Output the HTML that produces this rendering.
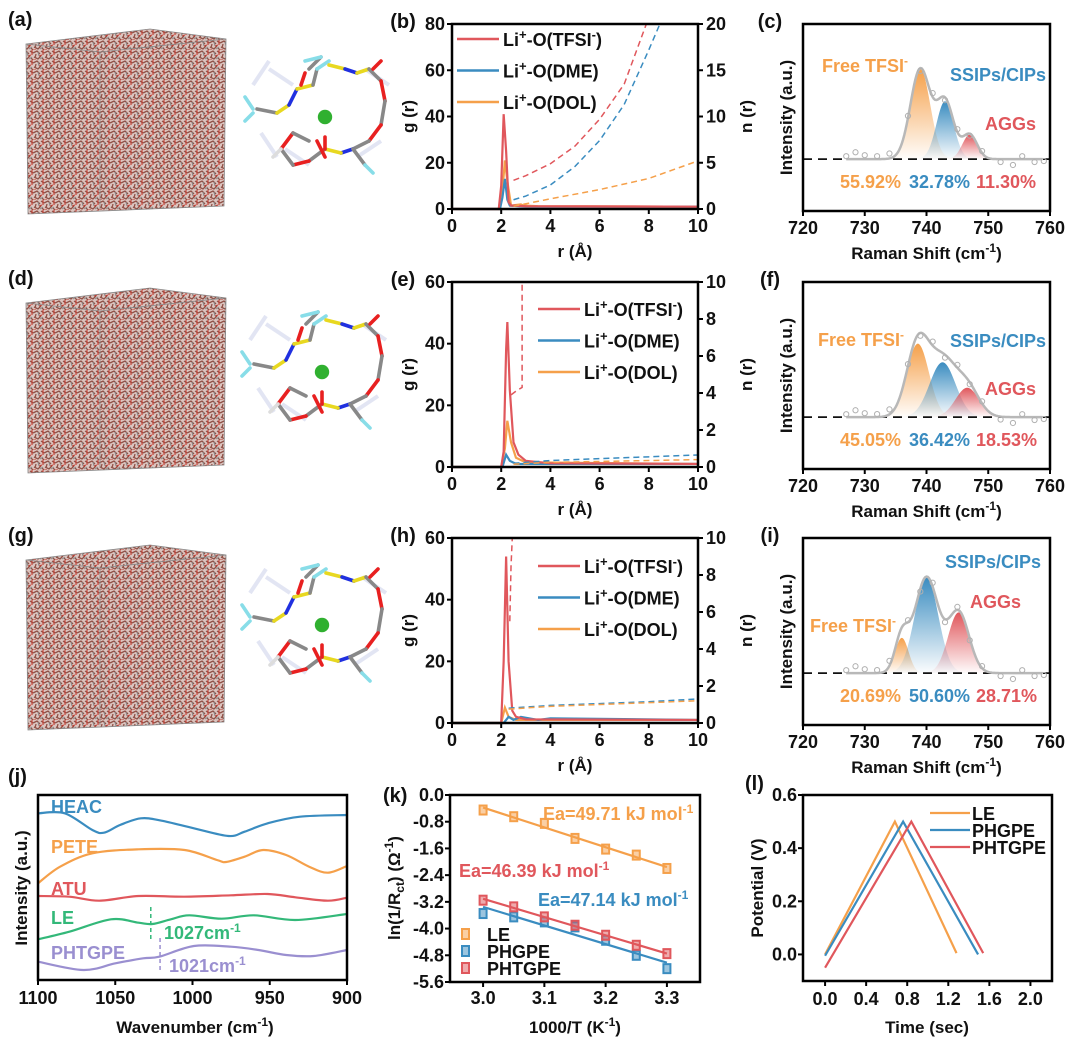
<!DOCTYPE html>
<html><head><meta charset="utf-8"><style>
body{margin:0;background:#fff;}
svg{display:block;font-family:"Liberation Sans",sans-serif;}
.t{font-weight:bold;font-size:18px;fill:#111}
.lg{font-weight:bold;font-size:18px;fill:#111}
.lab{font-weight:bold;font-size:20px;fill:#111}
.at{font-weight:bold;font-size:17px;fill:#111}
.an{font-weight:bold;font-size:18px}
</style></head><body>
<svg id="fig" width="1080" height="1050" viewBox="0 0 1080 1050" xmlns="http://www.w3.org/2000/svg">
<defs>
<pattern id="mol" width="11" height="10" patternUnits="userSpaceOnUse">
<rect width="11" height="10" fill="#dcc4bf"/>
<path d="M0 3 L4 1 L7 4 M8 1 L11 3 M1 7 L5 9 L8 6 M9 8 L11 10 M3 4 L2 8" stroke="#8f5046" stroke-width="1.3" fill="none"/>
<path d="M6 6 L9 5 M0 10 L3 10 M10 0 L10 5" stroke="#c0392e" stroke-width="1.1" fill="none"/>
<path d="M5 2 L6 6 M7 9 L10 7" stroke="#8a8a8a" stroke-width="1" fill="none"/>
</pattern>
</defs>
</svg>
<script>
const NS='http://www.w3.org/2000/svg';
const svg=document.getElementById('fig');
function mk(tag,attrs,name,parent,inter){
  const el=document.createElementNS(NS,tag);
  for(const k in attrs) el.setAttribute(k,attrs[k]);
  
  
  (parent||svg).appendChild(el);return el;
}
function txt(x,y,s,cls,name,extra){const e=mk('text',Object.assign({x:x,y:y,class:cls},extra||{}),name);e.innerHTML=s;return e;}
function lin(d0,d1,r0,r1){return v=>r0+(v-d0)/(d1-d0)*(r1-r0);}
const RED='#e0575c',BLUE='#3a8cc0',ORG='#f5a04a',GRN='#33b879',PUR='#9a8fd0';
const SUP='<tspan dy="-7" font-size="12">-1</tspan>';

// ---------- data: RDF panels ----------
const rdfTfsiR_b=[0,1.9,2.0,2.1,2.2,2.3,2.4,3,10], rdfTfsiG_b=[0,0,10,41,25,3,1.5,1.2,1];
const rdfDmeR_b=[0,1.95,2.05,2.15,2.25,2.35,3,10], rdfDmeG_b=[0,0,5,13,4,1.5,1,1];
const rdfDolR_b=[0,1.95,2.05,2.15,2.25,2.4,2.8,2.9,3.5,10], rdfDolG_b=[0,0,8,21,12,1.5,2,1.5,1.2,1];
const cnTfsiR_b=[2.5,3,4,5,6,7,7.9], cnTfsiN_b=[3.1,3.6,4.9,6.8,9.7,13.5,20];
const cnDmeR_b=[2.5,3,4,5,6,7,8,8.45], cnDmeN_b=[1,1.4,2.6,4.6,7.4,11.3,17.2,20];
const cnDolR_b=[2.5,4,6,8,10], cnDolN_b=[0.3,1.1,2.1,3.3,5.2];

const rdfTfsiR_e=[0,2.0,2.1,2.2,2.25,2.35,2.5,2.7,3,4,10], rdfTfsiG_e=[0,0,5,38,47,25,8,4,2,1.2,1];
const rdfDmeR_e=[0,2.05,2.2,2.35,2.6,10], rdfDmeG_e=[0,0,4,2,1,1];
const rdfDolR_e=[0,2.0,2.15,2.25,2.4,2.6,3,10], rdfDolG_e=[0,0,6,15,8,3,1.5,1];
const cnTfsiR_e=[2.4,2.6,2.85,2.85], cnTfsiN_e=[3.9,4.1,4.3,10];
const cnDmeR_e=[2.5,4,6,8,10], cnDmeN_e=[0.2,0.35,0.45,0.55,0.65];
const cnDolR_e=[2.5,4,6,8,10], cnDolN_e=[0.15,0.25,0.3,0.35,0.4];

const rdfTfsiR_h=[0,2.0,2.1,2.2,2.3,2.45,2.6,3,10], rdfTfsiG_h=[0,0,20,54,20,4,2,1.2,1];
const rdfDmeR_h=[0,2.1,2.3,2.5,2.8,3.5,4,10], rdfDmeG_h=[0,0,2,1,2,1,1.5,1];
const rdfDolR_h=[0,2.0,2.15,2.3,2.6,10], rdfDolG_h=[0,0,5,2,1,1];
const cnTfsiR_h=[2.35,2.4,2.45], cnTfsiN_h=[5.5,8.5,10];
const cnDmeR_h=[2.3,4,6,8,10], cnDmeN_h=[0.8,0.95,1.05,1.15,1.3];
const cnDolR_h=[2.3,4,6,8,10], cnDolN_h=[0.75,0.9,1.0,1.1,1.2];

function rdfPanel(o){
  const L=452,R=698,T=o.top,B=o.top+185;
  const X=lin(0,10,L,R),Y=lin(0,o.gmax,B,T),Y2=lin(0,o.nmax,B,T);
  const g=mk('g',{},'panel-'+o.id);
  const series=[[o.dol,ORG,'dol'],[o.dme,BLUE,'dme'],[o.tfsi,RED,'tfsi']];
  series.forEach(s=>{
    const p=s[0][0].map((r,i)=>X(r)+','+Y(s[0][1][i])).join(' ');
    mk('polyline',{points:p,fill:'none',stroke:s[1],'stroke-width':2.2},'gr-line-'+s[2],g);
  });
  const cn=[[o.ntfsi,RED,'tfsi'],[o.ndme,BLUE,'dme'],[o.ndol,ORG,'dol']];
  cn.forEach(s=>{
    const p=s[0][0].map((r,i)=>X(r)+','+Y2(Math.min(s[0][1][i],o.nmax))).join(' ');
    mk('polyline',{points:p,fill:'none',stroke:s[1],'stroke-width':1.5,'stroke-dasharray':'6,4'},'nr-line-'+s[2],g);
  });
  mk('rect',{x:L,y:T,width:R-L,height:B-T,fill:'none',stroke:'#000','stroke-width':2.5},'plot-frame-'+o.id,g);
  for(let v=0;v<=10;v+=2){mk('line',{x1:X(v),x2:X(v),y1:B,y2:B+5,stroke:'#000','stroke-width':2},'x-tick',g);
    txt(X(v),B+23,v,'t','x-tick-label',{'text-anchor':'middle'});}
  o.gticks.forEach(v=>{mk('line',{x1:L-5,x2:L,y1:Y(v),y2:Y(v),stroke:'#000','stroke-width':2},'y-tick',g);
    txt(L-7,Y(v)+6,v,'t','y-tick-label',{'text-anchor':'end'});});
  o.nticks.forEach(v=>{mk('line',{x1:R,x2:R+5,y1:Y2(v),y2:Y2(v),stroke:'#000','stroke-width':2},'y2-tick',g);
    txt(R+8,Y2(v)+6,v,'t','y2-tick-label');});
  txt(403,o.top+4,'('+o.id+')','lab','panel-label-'+o.id,{'text-anchor':'middle'});
  txt(0,0,'g (r)','at','y-axis-title',{transform:`translate(${414},${(T+B)/2}) rotate(-90)`,'text-anchor':'middle'});
  txt(0,0,'n (r)','at','y2-axis-title',{transform:`translate(${752},${(T+B)/2}) rotate(-90)`,'text-anchor':'middle'});
  txt((L+R)/2,B+48,'r (Å)','at','x-axis-title',{'text-anchor':'middle'});
  const labs=[['Li<tspan dy="-7" font-size="13">+</tspan><tspan dy="7">-O(TFSI</tspan><tspan dy="-7" font-size="13">-</tspan><tspan dy="7">)</tspan>',RED],
    ['Li<tspan dy="-7" font-size="13">+</tspan><tspan dy="7">-O(DME)</tspan>',BLUE],
    ['Li<tspan dy="-7" font-size="13">+</tspan><tspan dy="7">-O(DOL)</tspan>',ORG]];
  labs.forEach((l,i)=>{const y=o.ly+i*o.lgap;
    mk('line',{x1:o.lx,x2:o.lx+42,y1:y,y2:y,stroke:l[1],'stroke-width':2.5},'legend-swatch',g);
    txt(o.lx+46,y+7,l[0],'lg','legend-entry');});
}
rdfPanel({id:'b',top:24,gmax:80,nmax:20,gticks:[0,20,40,60,80],nticks:[0,5,10,15,20],lx:457,ly:39,lgap:31.5,
  tfsi:[rdfTfsiR_b,rdfTfsiG_b],dme:[rdfDmeR_b,rdfDmeG_b],dol:[rdfDolR_b,rdfDolG_b],
  ntfsi:[cnTfsiR_b,cnTfsiN_b],ndme:[cnDmeR_b,cnDmeN_b],ndol:[cnDolR_b,cnDolN_b]});
rdfPanel({id:'e',top:282,gmax:60,nmax:10,gticks:[0,20,40,60],nticks:[0,2,4,6,8,10],lx:538,ly:309,lgap:31.5,
  tfsi:[rdfTfsiR_e,rdfTfsiG_e],dme:[rdfDmeR_e,rdfDmeG_e],dol:[rdfDolR_e,rdfDolG_e],
  ntfsi:[cnTfsiR_e,cnTfsiN_e],ndme:[cnDmeR_e,cnDmeN_e],ndol:[cnDolR_e,cnDolN_e]});
rdfPanel({id:'h',top:538,gmax:60,nmax:10,gticks:[0,20,40,60],nticks:[0,2,4,6,8,10],lx:538,ly:566,lgap:31.5,
  tfsi:[rdfTfsiR_h,rdfTfsiG_h],dme:[rdfDmeR_h,rdfDmeG_h],dol:[rdfDolR_h,rdfDolG_h],
  ntfsi:[cnTfsiR_h,cnTfsiN_h],ndme:[cnDmeR_h,cnDmeN_h],ndol:[cnDolR_h,cnDolN_h]});

// ---------- data: Raman ----------
const ramanCenters_c=[739,743,747], ramanAmps_c=[0.92,0.59,0.25], ramanWidths_c=[1.6,1.4,1.2];
const ramanPct_c=['55.92%','32.78%','11.30%'];
const ramanCenters_f=[738.6,742.6,746.6], ramanAmps_f=[0.75,0.56,0.3], ramanWidths_f=[1.8,2.1,1.9];
const ramanPct_f=['45.05%','36.42%','18.53%'];
const ramanCenters_i=[736,740,745.2], ramanAmps_i=[0.36,0.98,0.62], ramanWidths_i=[1.1,1.9,1.7];
const ramanPct_i=['20.69%','50.60%','28.71%'];
const ramanPtX=[727,728.5,730,732,734,737,739,741,743,745,747,749,752,754,755.5,757.5,759];
const ramanNoise=[0.03,0.07,0.04,0.03,0.05,0.02,-0.03,0.04,-0.03,0.03,-0.02,0.02,-0.03,-0.06,0.03,-0.03,-0.02];

function ramanPanel(o){
  const L=803,R=1050,T=o.top,B=o.top+187;
  const X=lin(720,760,L,R),Y=lin(-0.53,1.38,B,T);
  const g=mk('g',{},'panel-'+o.id);
  const cols=[ORG,BLUE,RED],nm=['free-tfsi','ssip-cip','agg'];
  const gau=(x,i)=>o.amp[i]*Math.exp(-Math.pow(x-o.c[i],2)/(2*o.w[i]*o.w[i]));
  o.c.forEach((c,i)=>{
    const gid='gr'+o.id+i;
    const lg=mk('linearGradient',{id:gid,x1:0,y1:0,x2:0,y2:1},'gradient',svg.querySelector('defs'));
    mk('stop',{offset:0,'stop-color':cols[i],'stop-opacity':1},'stop',lg);
    mk('stop',{offset:1,'stop-color':cols[i],'stop-opacity':0.02},'stop',lg);
    let d='M'+X(c-4*o.w[i])+','+Y(0);
    for(let x=c-4*o.w[i];x<=c+4*o.w[i];x+=0.1)d+=' L'+X(x)+','+Y(gau(x,i));
    d+=' L'+X(c+4*o.w[i])+','+Y(0)+'Z';
    mk('path',{d:d,fill:`url(#${gid})`},'peak-'+nm[i],g);
  });
  mk('line',{x1:L,x2:R,y1:Y(0),y2:Y(0),stroke:'#111','stroke-width':1.8,'stroke-dasharray':'9,6'},'baseline',g);
  const env=x=>gau(x,0)+gau(x,1)+gau(x,2);
  let d='';for(let x=727;x<=759;x+=0.2)d+=(d?' L':'M')+X(x)+','+Y(env(x));
  mk('path',{d:d,fill:'none',stroke:'#b8b8b8','stroke-width':2.5},'envelope-fit',g);
  ramanPtX.forEach((x,i)=>mk('circle',{cx:X(x),cy:Y(env(x)+ramanNoise[i]),r:2.6,fill:'none',stroke:'#b0b0b0','stroke-width':1},'raman-point',g));
  mk('rect',{x:L,y:T,width:R-L,height:B-T,fill:'none',stroke:'#000','stroke-width':2.5},'plot-frame-'+o.id,g);
  for(let v=720;v<=760;v+=10){mk('line',{x1:X(v),x2:X(v),y1:B,y2:B+5,stroke:'#000','stroke-width':2},'x-tick',g);
    txt(X(v),B+23,v,'t','x-tick-label',{'text-anchor':'middle'});}
  txt(770,o.top+4,'('+o.id+')','lab','panel-label-'+o.id,{'text-anchor':'middle'});
  txt(0,0,'Intensity (a.u.)','at','y-axis-title',{transform:`translate(792,${(T+B)/2}) rotate(-90)`,'text-anchor':'middle'});
  txt((L+R)/2,B+48,'Raman Shift (cm'+SUP+'<tspan dy="7">)</tspan>','at','x-axis-title',{'text-anchor':'middle'});
  txt(o.fx,o.fy,'Free TFSI<tspan dy="-7" font-size="12">-</tspan>','an','label-free-tfsi',{style:'fill:'+ORG});
  txt(o.sx,o.sy,'SSIPs/CIPs','an','label-ssip',{style:'fill:'+BLUE});
  txt(o.ax,o.ay,'AGGs','an','label-aggs',{style:'fill:'+RED});
  const px=[840,909,976];
  o.pct.forEach((p,i)=>txt(px[i],Y(0)+29,p,'an','percentage-'+nm[i],{style:'fill:'+cols[i]}));
}
ramanPanel({id:'c',top:24,c:ramanCenters_c,amp:ramanAmps_c,w:ramanWidths_c,pct:ramanPct_c,fx:822,fy:72,sx:950,sy:81,ax:985,ay:130});
ramanPanel({id:'f',top:282,c:ramanCenters_f,amp:ramanAmps_f,w:ramanWidths_f,pct:ramanPct_f,fx:818,fy:346,sx:950,sy:347,ax:985,ay:395});
ramanPanel({id:'i',top:538,c:ramanCenters_i,amp:ramanAmps_i,w:ramanWidths_i,pct:ramanPct_i,fx:810,fy:632,sx:945,sy:568,ax:970,ay:608});

// ---------- MD snapshots ----------
function cube(id,top){
  const g=mk('g',{},'md-snapshot-'+id);
  mk('path',{d:`M26 ${top+20} L150 ${top+5} L226 ${top+15} L224 ${top+182} L28 ${top+190} Z`,fill:'url(#mol)'},'molecule-cloud',g);
  mk('path',{d:`M26 ${top+20} L150 ${top+5} L226 ${top+15} L224 ${top+182} L28 ${top+190} Z M26 ${top+20} L100 ${top+28} L226 ${top+15} M100 ${top+28} L100 ${top+185}`,fill:'none',stroke:'#888','stroke-width':0.8},'cell-box',g);
  txt(8,top+2,'('+id+')','lab','panel-label-'+id);
}
cube('a',24);cube('d',283);cube('g',540);
function cluster(cx,cy,nm){
  const g=mk('g',{transform:`translate(${cx},${cy}) scale(0.8)`},'solvation-cluster-'+nm);
  const ghost=[[-70,-60,-40,-40],[-50,40,-20,60],[40,50,70,30],[50,-60,80,-40],[-80,20,-60,50],[-90,-40,-70,-70]];
  ghost.forEach(s=>mk('line',{x1:s[0],y1:s[1],x2:s[2],y2:s[3],stroke:'#d0d4ec','stroke-width':5,opacity:0.6},'background-molecule',g));
  const b=[[-85,-10,-60,-5,'#888'],[-60,-5,-45,-15,'#e8d820'],[-45,-15,-35,-35,'#2030e0'],[-35,-35,-15,-40,'#e8d820'],[-15,-40,-10,-60,'#888'],
    [-10,-60,5,-70,'#88dde8'],[-20,-60,-5,-75,'#888'],[-25,-70,-5,-75,'#88dde8'],[5,-65,25,-60,'#e8d820'],[25,-60,40,-55,'#2030e0'],[40,-55,55,-60,'#e8d820'],
    [55,-60,70,-45,'#888'],[70,-45,75,-20,'#e82020'],[75,-20,70,10,'#888'],[70,10,55,30,'#e82020'],[55,30,35,40,'#888'],[35,40,20,45,'#2030e0'],
    [20,45,0,40,'#e8d820'],[0,40,-20,55,'#888'],[-20,55,-40,60,'#e82020'],[-40,60,-55,40,'#888'],[-55,40,-40,20,'#e82020'],[-40,20,-20,30,'#888'],
    [-10,30,0,50,'#e82020'],[0,40,0,25,'#e82020'],[-55,40,-65,50,'#ddd'],[-90,-5,-100,5,'#88dde8'],[-90,-10,-100,-25,'#88dde8'],
    [35,40,50,60,'#888'],[50,60,60,70,'#88dde8'],[-30,-40,-25,-55,'#e82020'],[60,-60,70,-70,'#e82020']];
  b.forEach(s=>mk('line',{x1:s[0],y1:s[1],x2:s[2],y2:s[3],stroke:s[4],'stroke-width':4.5,'stroke-linecap':'round'},'bond',g));
  mk('circle',{cx:0,cy:0,r:9,fill:'#30b030'},'lithium-ion',g);
}
cluster(325,117,'a');cluster(322,372,'d');cluster(322,625,'g');

// ---------- (j) FTIR ----------
const ftirWnHeac=[1100,1082.7,1064.8,1057.3,1046.9,1033.4,1020,999.1,976.7,966.3,951.3,930.4,900];
const ftirHeac=[166.7,166.7,150,147.3,155,161.7,159.3,151.7,144,148.3,156.7,163.3,165];
const ftirWnPete=[1100,1085.7,1064.8,1034.9,1005.1,984.2,978.2,966.3,954.3,939.4,924.5,912.5,900];
const ftirPete=[96.7,113.3,126.7,130.7,130,120,118,123.3,130,125,113.3,107.3,114];
const ftirWnAtu=[1100,1079.7,1060.3,1034.9,1005.1,975.2,951.3,933.4,912.5,900];
const ftirAtu=[84,83.3,79.3,84,83.3,84.7,86,82.7,79.3,82.3];
const ftirWnLe=[1100,1079.7,1052.8,1034.9,1026,1014,1002.1,981.2,960.3,933.4,900];
const ftirLe=[40.7,48.3,60.7,57.3,56,60.7,64.7,61.3,64.7,60,66];
const ftirWnPht=[1100,1070.7,1049.9,1031.9,1021.5,999.1,975.2,957.3,939.4,921.5,900];
const ftirPht=[18.3,10,16.7,21.7,23.3,34,33.3,30,25,24,30];
const ftirTicks=[1100,1050,1000,950,900];
(function(){
  const L=38,R=347,T=795,B=980,X=lin(1100,900,L,R),Y=lin(0,185,B,T);
  const g=mk('g',{},'panel-j');
  function smooth(xs,ys){const p=xs.map((x,i)=>[X(x),Y(ys[i])]);let d='M'+p[0];
    for(let i=0;i<p.length-1;i++){const p0=p[i-1]||p[i],p1=p[i],p2=p[i+1],p3=p[i+2]||p2;
      d+=` C${p1[0]+(p2[0]-p0[0])/6},${p1[1]+(p2[1]-p0[1])/6} ${p2[0]-(p3[0]-p1[0])/6},${p2[1]-(p3[1]-p1[1])/6} ${p2[0]},${p2[1]}`;}return d;}
  [[ftirWnHeac,ftirHeac,BLUE,'heac'],[ftirWnPete,ftirPete,ORG,'pete'],[ftirWnAtu,ftirAtu,RED,'atu'],[ftirWnLe,ftirLe,GRN,'le'],[ftirWnPht,ftirPht,PUR,'phtgpe']]
    .forEach(s=>mk('path',{d:smooth(s[0],s[1]),fill:'none',stroke:s[2],'stroke-width':2.2},'ftir-'+s[3],g));
  mk('line',{x1:X(1027),x2:X(1027),y1:907,y2:942,stroke:GRN,'stroke-width':1.5,'stroke-dasharray':'4,3'},'marker-1027',g);
  mk('line',{x1:X(1021),x2:X(1021),y1:938,y2:973,stroke:PUR,'stroke-width':1.5,'stroke-dasharray':'4,3'},'marker-1021',g);
  mk('rect',{x:L,y:T,width:R-L,height:B-T,fill:'none',stroke:'#000','stroke-width':2.5},'plot-frame-j',g);
  ftirTicks.forEach(v=>{mk('line',{x1:X(v),x2:X(v),y1:B,y2:B+5,stroke:'#000','stroke-width':2},'x-tick',g);
    txt(X(v),B+24,v,'t','x-tick-label',{'text-anchor':'middle'});});
  txt(51,813,'HEAC','an','label-heac',{style:'fill:'+BLUE});
  txt(51,853,'PETE','an','label-pete',{style:'fill:'+ORG});
  txt(51,895,'ATU','an','label-atu',{style:'fill:'+RED});
  txt(51,924,'LE','an','label-le',{style:'fill:'+GRN});
  txt(51,959,'PHTGPE','an','label-phtgpe',{style:'fill:'+PUR});
  txt(164,939,'1027cm'+SUP,'an','label-1027',{style:'fill:'+GRN});
  txt(169,972,'1021cm'+SUP,'an','label-1021',{style:'fill:'+PUR});
  txt(8,783,'(j)','lab','panel-label-j');
  txt(0,0,'Intensity (a.u.)','at','y-axis-title',{transform:'translate(27,888) rotate(-90)','text-anchor':'middle'});
  txt(195,1033,'Wavenumber (cm'+SUP+'<tspan dy="7">)</tspan>','at','x-axis-title',{'text-anchor':'middle'});
})();

// ---------- (k) Arrhenius ----------
const arrX=[3.0,3.05,3.1,3.15,3.2,3.25,3.3];
const arrLe=[-0.45,-0.65,-0.85,-1.3,-1.62,-1.8,-2.2];
const arrPhgpe=[-3.55,-3.65,-3.8,-3.95,-4.35,-4.8,-5.2];
const arrPhtgpe=[-3.15,-3.35,-3.65,-3.9,-4.2,-4.5,-4.75];
const arrYTicks=[0.0,-0.8,-1.6,-2.4,-3.2,-4.0,-4.8,-5.6];
const arrXTicks=[3.0,3.1,3.2,3.3];
(function(){
  const L=450,R=700,T=795,B=982,X=lin(2.946,3.354,L,R),Y=lin(-5.6,0,B,T);
  const g=mk('g',{},'panel-k');
  function fit(ys){const n=arrX.length,mx=arrX.reduce((a,b)=>a+b)/n,my=ys.reduce((a,b)=>a+b)/n;
    let sxy=0,sxx=0;arrX.forEach((x,i)=>{sxy+=(x-mx)*(ys[i]-my);sxx+=(x-mx)*(x-mx);});const m=sxy/sxx;return x=>my+m*(x-mx);}
  [[arrLe,ORG,'le'],[arrPhgpe,BLUE,'phgpe'],[arrPhtgpe,RED,'phtgpe']].forEach(s=>{
    const f=fit(s[0]);
    mk('line',{x1:X(3.0),y1:Y(f(3.0)),x2:X(3.3),y2:Y(f(3.3)),stroke:s[1],'stroke-width':2.2},'fit-line-'+s[2],g);
    arrX.forEach((x,i)=>mk('rect',{x:X(x)-3.5,y:Y(s[0][i])-4.5,width:7,height:9,fill:s[1],'fill-opacity':0.5,stroke:s[1],'stroke-width':2},'point-'+s[2],g));
  });
  mk('rect',{x:L,y:T,width:R-L,height:B-T,fill:'none',stroke:'#000','stroke-width':2.5},'plot-frame-k',g);
  arrXTicks.forEach(v=>{mk('line',{x1:X(v),x2:X(v),y1:B,y2:B+5,stroke:'#000','stroke-width':2},'x-tick',g);
    txt(X(v),B+22,v.toFixed(1),'t','x-tick-label',{'text-anchor':'middle'});});
  arrYTicks.forEach(v=>{mk('line',{x1:L-5,x2:L,y1:Y(v),y2:Y(v),stroke:'#000','stroke-width':2},'y-tick',g);
    txt(L-6,Y(v)+6,v.toFixed(1),'t','y-tick-label',{'text-anchor':'end'});});
  txt(543,820,'Ea=49.71 kJ mol'+SUP,'an','label-ea-le',{style:'fill:'+ORG});
  txt(459,877,'Ea=46.39 kJ mol'+SUP,'an','label-ea-phtgpe',{style:'fill:'+RED});
  txt(538,906,'Ea=47.14 kJ mol'+SUP,'an','label-ea-phgpe',{style:'fill:'+BLUE});
  [['LE',ORG],['PHGPE',BLUE],['PHTGPE',RED]].forEach((l,i)=>{const y=934+i*17;
    mk('rect',{x:462,y:y-5,width:7,height:10,fill:l[1],'fill-opacity':0.5,stroke:l[1],'stroke-width':2},'legend-swatch',g);
    txt(487,y+7,l[0],'lg','legend-entry');});
  txt(383,802,'(k)','lab','panel-label-k');
  txt(0,0,'ln(1/R<tspan font-size="12" dy="4">ct</tspan><tspan dy="-4">) (Ω</tspan><tspan dy="-7" font-size="12">-1</tspan><tspan dy="7">)</tspan>','at','y-axis-title',{transform:'translate(400,888) rotate(-90)','text-anchor':'middle'});
  txt(575,1033,'1000/T (K'+SUP+'<tspan dy="7">)</tspan>','at','x-axis-title',{'text-anchor':'middle'});
})();

// ---------- (l) charge/discharge ----------
const cdTimeLe=[0.0,0.68,1.28], cdVLe=[0.0,0.5,0.005];
const cdTimePhgpe=[0.0,0.76,1.49], cdVPhgpe=[-0.005,0.5,0.0];
const cdTimePhtgpe=[0.0,0.84,1.54], cdVPhtgpe=[-0.05,0.5,0.005];
const cdXTicks=[0.0,0.4,0.8,1.2,1.6,2.0], cdYTicks=[0.0,0.2,0.4,0.6];
(function(){
  const L=803,R=1052,T=795,B=981,X=lin(-0.215,2.21,L,R),Y=lin(-0.1,0.6,B,T);
  const g=mk('g',{},'panel-l');
  [[cdTimeLe,cdVLe,ORG,'le'],[cdTimePhgpe,cdVPhgpe,BLUE,'phgpe'],[cdTimePhtgpe,cdVPhtgpe,RED,'phtgpe']].forEach(s=>
    mk('polyline',{points:s[0].map((t,i)=>X(t)+','+Y(s[1][i])).join(' '),fill:'none',stroke:s[2],'stroke-width':2.2},'curve-'+s[3],g));
  mk('rect',{x:L,y:T,width:R-L,height:B-T,fill:'none',stroke:'#000','stroke-width':2.5},'plot-frame-l',g);
  cdXTicks.forEach(v=>{mk('line',{x1:X(v),x2:X(v),y1:B,y2:B+5,stroke:'#000','stroke-width':2},'x-tick',g);
    txt(X(v),B+24,v.toFixed(1),'t','x-tick-label',{'text-anchor':'middle'});});
  cdYTicks.forEach(v=>{mk('line',{x1:L-5,x2:L,y1:Y(v),y2:Y(v),stroke:'#000','stroke-width':2},'y-tick',g);
    txt(L-6,Y(v)+6,v.toFixed(1),'t','y-tick-label',{'text-anchor':'end'});});
  [['LE',ORG],['PHGPE',BLUE],['PHTGPE',RED]].forEach((l,i)=>{const y=813+i*17;
    mk('line',{x1:930,x2:970,y1:y,y2:y,stroke:l[1],'stroke-width':2.2},'legend-swatch',g);
    txt(972,y+7,l[0],'lg','legend-entry');});
  txt(745,790,'(l)','lab','panel-label-l');
  txt(0,0,'Potential (V)','at','y-axis-title',{transform:'translate(763,888) rotate(-90)','text-anchor':'middle'});
  txt(927,1033,'Time (sec)','at','x-axis-title',{'text-anchor':'middle'});
})();
</script>
</body></html>
